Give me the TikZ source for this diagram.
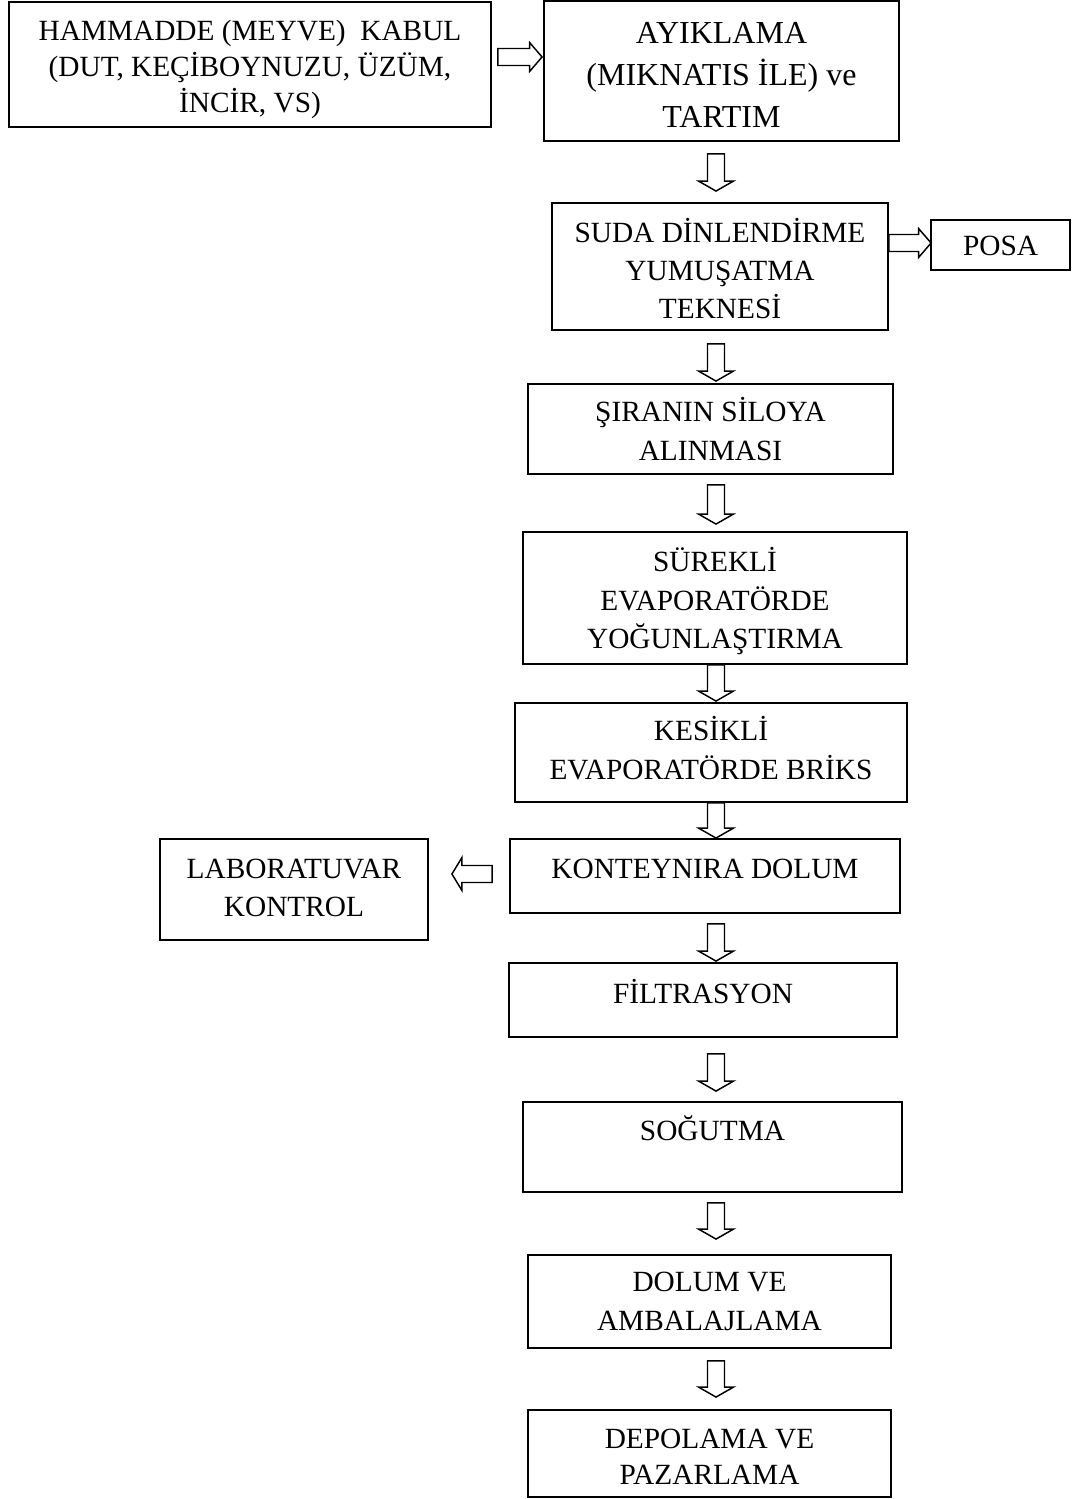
\documentclass[tikz,border=0pt]{standalone}
\usepackage{fontspec}
\setmainfont{Liberation Serif}
\usetikzlibrary{calc}

\tikzset{
  box/.style={draw, line width=1.4pt, inner sep=0pt},
  lbl/.style={anchor=base, inner sep=0pt, font=\fontsize{22}{26}\selectfont},
  lblbig/.style={anchor=base, inner sep=0pt, font=\fontsize{24}{28}\selectfont},
  % hollow block arrow: #1 half shaft width, #2 half head width, #3 head length
  blockarrow/.style n args={3}{draw, line width=1.1pt, line join=miter, to path={
    ($(\tikztostart)!#1!90:(\tikztotarget)$)
    -- ($($(\tikztotarget)!#3!(\tikztostart)$)!#1!-90:(\tikztostart)$)
    -- ($($(\tikztotarget)!#3!(\tikztostart)$)!#2!-90:(\tikztostart)$)
    -- (\tikztotarget)
    -- ($($(\tikztotarget)!#3!(\tikztostart)$)!#2!90:(\tikztostart)$)
    -- ($($(\tikztotarget)!#3!(\tikztostart)$)!#1!90:(\tikztostart)$)
    -- ($(\tikztostart)!#1!-90:(\tikztotarget)$)
    -- cycle}},
  downarrow/.style={blockarrow={6.375pt}{13.125pt}{7.5pt}},
  rightarrow/.style={blockarrow={6.375pt}{10.875pt}{9.375pt}},
  leftarrow/.style={blockarrow={6.375pt}{12.375pt}{7.5pt}},
}

\begin{document}
\begin{tikzpicture}[x=0.75pt, y=-0.75pt]
  \fill[white] (0,0) rectangle (1072,1499);
  \useasboundingbox (0,0) rectangle (1072,1499);

  % process boxes
  \node[box, minimum width=482*0.75pt, minimum height=125*0.75pt] (ham)  at (250,64.5)   {};
  \node[box, minimum width=355*0.75pt, minimum height=140*0.75pt] (ayi)  at (721.5,71)   {};
  \node[box, minimum width=336*0.75pt, minimum height=127*0.75pt] (suda) at (720,266.5)  {};
  \node[box, minimum width=139*0.75pt, minimum height=50*0.75pt]  (posa) at (1000.5,245) {};
  \node[box, minimum width=365*0.75pt, minimum height=90*0.75pt]  (sir)  at (710.5,429)  {};
  \node[box, minimum width=384*0.75pt, minimum height=132*0.75pt] (sur)  at (715,598)    {};
  \node[box, minimum width=392*0.75pt, minimum height=99*0.75pt]  (kes)  at (711,752.5)  {};
  \node[box, minimum width=390*0.75pt, minimum height=74*0.75pt]  (kon)  at (705,876)    {};
  \node[box, minimum width=268*0.75pt, minimum height=101*0.75pt] (lab)  at (294,889.5)  {};
  \node[box, minimum width=388*0.75pt, minimum height=74*0.75pt]  (fil)  at (703,1000)   {};
  \node[box, minimum width=379*0.75pt, minimum height=90*0.75pt]  (sog)  at (712.5,1147) {};
  \node[box, minimum width=363*0.75pt, minimum height=93*0.75pt]  (dol)  at (709.5,1301.5) {};
  \node[box, minimum width=363*0.75pt, minimum height=87*0.75pt]  (dep)  at (709.5,1453.5) {};

  % box texts, one node per line
  \node[lbl] (ham1) at (250,40)  {HAMMADDE (MEYVE)\ \ KABUL};
  \node[lbl] (ham2) at (250,76)  {(DUT, KEÇİBOYNUZU, ÜZÜM,};
  \node[lbl] (ham3) at (250,112) {İNCİR, VS)};

  \node[lblbig] (ayi1) at (721.5,43)  {AYIKLAMA};
  \node[lblbig] (ayi2) at (721.5,85)  {(MIKNATIS İLE) ve};
  \node[lblbig] (ayi3) at (721.5,127) {TARTIM};

  \node[lbl] (suda1) at (720,242) {SUDA DİNLENDİRME};
  \node[lbl] (suda2) at (720,280) {YUMUŞATMA};
  \node[lbl] (suda3) at (720,318) {TEKNESİ};

  \node[lbl] (posa1) at (1000.5,255) {POSA};

  \node[lbl] (sir1) at (710.5,421) {ŞIRANIN SİLOYA};
  \node[lbl] (sir2) at (710.5,460) {ALINMASI};

  \node[lbl] (sur1) at (715,571) {SÜREKLİ};
  \node[lbl] (sur2) at (715,610) {EVAPORATÖRDE};
  \node[lbl] (sur3) at (715,648) {YOĞUNLAŞTIRMA};

  \node[lbl] (kes1) at (711,740) {KESİKLİ};
  \node[lbl] (kes2) at (711,779) {EVAPORATÖRDE BRİKS};

  \node[lbl] (kon1) at (705,878) {KONTEYNIRA DOLUM};

  \node[lbl] (lab1) at (294,878) {LABORATUVAR};
  \node[lbl] (lab2) at (294,916) {KONTROL};

  \node[lbl] (fil1) at (703,1003) {FİLTRASYON};

  \node[lbl] (sog1) at (712.5,1140) {SOĞUTMA};

  \node[lbl] (dol1) at (709.5,1291) {DOLUM VE};
  \node[lbl] (dol2) at (709.5,1330) {AMBALAJLAMA};

  \node[lbl] (dep1) at (709.5,1448) {DEPOLAMA VE};
  \node[lbl] (dep2) at (709.5,1484) {PAZARLAMA};

  % column of the vertical flow arrows
  \coordinate (col) at (716,0);

  % sideways arrows
  \draw[rightarrow] ($(ham.east)+(6,-7.5)$) to ($(ayi.west)+(-1,-14)$);
  \draw[rightarrow] ($(suda.east |- posa.west)+(0,-2)$) to ($(posa.west)+(1,-2)$);
  \draw[leftarrow]  ($(kon.west)+(-17,-2)$) to ($(kon.west -| lab.east)+(23,-2)$);

  % downward arrows
  \draw[downarrow] ($(ayi.south -| col)+(0,12)$)  to ($(suda.north -| col)+(0,-11)$);
  \draw[downarrow] ($(suda.south -| col)+(0,13)$) to ($(sir.north -| col)+(0,-2)$);
  \draw[downarrow] ($(sir.south -| col)+(0,10)$)  to ($(sur.north -| col)+(0,-7)$);
  \draw[downarrow] (sur.south -| col)              to ($(kes.north -| col)+(0,-1)$);
  \draw[downarrow] (kes.south -| col)              to (kon.north -| col);
  \draw[downarrow] ($(kon.south -| col)+(0,10)$)  to ($(fil.north -| col)+(0,-1)$);
  \draw[downarrow] ($(fil.south -| col)+(0,16)$)  to ($(sog.north -| col)+(0,-10)$);
  \draw[downarrow] ($(sog.south -| col)+(0,10)$)  to ($(dol.north -| col)+(0,-15)$);
  \draw[downarrow] ($(dol.south -| col)+(0,12)$)  to ($(dep.north -| col)+(0,-12)$);
\end{tikzpicture}
\end{document}
